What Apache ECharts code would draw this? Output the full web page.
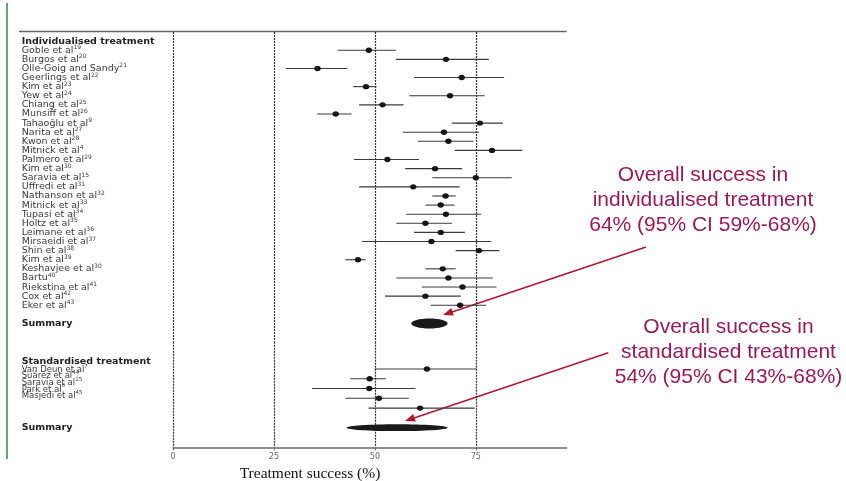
<!DOCTYPE html>
<html>
<head>
<meta charset="utf-8">
<script src="https://cdn.jsdelivr.net/npm/echarts@6/dist/echarts.min.js"></script>
<style>
  html, body { margin: 0; padding: 0; background: #fff; }
  #chart { width: 846px; height: 481px; }
</style>
</head>
<body>
<div id="chart"></div>
<script>
// 个体化治疗 individualised treatment
var indivNames = ['Goble et al', 'Burgos et al', 'Olle-Goig and Sandy', 'Geerlings et al', 'Kim et al', 'Yew et al', 'Chiang et al', 'Munsiff et al', 'Tahaoğlu et al', 'Narita et al', 'Kwon et al', 'Mitnick et al', 'Palmero et al', 'Kim et al', 'Saravia et al', 'Uffredi et al', 'Nathanson et al', 'Mitnick et al', 'Tupasi et al', 'Holtz et al', 'Leimane et al', 'Mirsaeidi et al', 'Shin et al', 'Kim et al', 'Keshavjee et al', 'Bartu', 'Riekstina et al', 'Cox et al', 'Eker et al']
var indivRefs = ['19', '20', '21', '22', '23', '24', '25', '26', '9', '27', '28', '4', '29', '30', '15', '31', '32', '33', '34', '35', '36', '37', '38', '39', '30', '40', '41', '42', '43']
var indivEst = [48.5, 67.6, 35.8, 71.5, 47.8, 68.6, 51.9, 40.3, 76.0, 67.1, 68.2, 79.0, 53.1, 64.9, 75.0, 59.5, 67.5, 66.3, 67.6, 62.5, 66.3, 64.0, 75.8, 45.8, 66.8, 68.2, 71.7, 62.5, 71.1]
var indivLow = [40.8, 55.2, 27.9, 59.7, 44.6, 58.5, 46.1, 35.7, 69.1, 56.9, 60.6, 69.8, 44.8, 57.5, 64.2, 46.1, 64.2, 62.5, 57.8, 55.3, 59.7, 46.8, 70.0, 42.7, 62.5, 55.3, 61.6, 52.5, 63.8]
var indivHigh = [55.2, 78.2, 43.2, 82.0, 50.4, 77.2, 57.1, 44.2, 81.7, 75.7, 74.4, 86.5, 60.9, 71.6, 83.9, 71.0, 70.0, 69.7, 76.3, 69.1, 72.3, 78.8, 80.8, 47.7, 70.0, 79.2, 80.1, 71.3, 77.6]
var indivSummary = [64, 59, 68] // 点估计, 下限, 上限

// 标准化治疗 standardised treatment
var stdNames = ['Van Deun et al', 'Suárez et al', 'Saravia et al', 'Park et al', 'Masjedi et al']
var stdRefs = ['7', '44', '15', '8', '45']
var stdEst = [62.9, 48.7, 48.6, 51.0, 61.2]
var stdLow = [49.9, 43.9, 34.5, 42.7, 48.4]
var stdHigh = [75.2, 52.7, 60.0, 58.4, 74.7]
var stdSummary = [54, 43, 68]

var xTicks = [0, 25, 50, 75]

/* 左侧标签行 */
function studyLabel(name, ref, small) {
  if (small) {
    return '{m|' + name + '}{t|' + ref + '}'
  }
  return '{n|' + name + '}{s|' + ref + '}'
}
var rows1 = ['', '{h|Individualised treatment}']
  .concat(indivNames.map(function (n, i) { return studyLabel(n, indivRefs[i]) }))
  .concat(['', '{h|Summary}', '', ''])
var rows2 = ['', '', '', '{h|Standardised treatment}']
  .concat(stdNames.map(function (n, i) { return studyLabel(n, stdRefs[i], true) }))
  .concat(['', '', '', '', '{h|Summary}', '', '', ''])
var keys1 = rows1.map(function (r, i) { return 'a' + i })
var keys2 = rows2.map(function (r, i) { return 'b' + i })

var indivData = indivEst.map(function (v, i) { return [v, indivLow[i], indivHigh[i], i + 2] })
var stdData = stdEst.map(function (v, i) { return [v, stdLow[i], stdHigh[i], i + 1] })

var labelRich = {
  n: { fontFamily: 'DejaVu Sans', fontSize: 9.5, color: '#3a3a3a', lineHeight: 11 },
  s: { fontFamily: 'DejaVu Sans', fontSize: 6, color: '#3a3a3a', lineHeight: 6, verticalAlign: 'top' },
  // 标准化部分行距更紧，整体略下移
  m: { fontFamily: 'DejaVu Sans', fontSize: 8.5, color: '#3a3a3a', lineHeight: 10, padding: [3, 0, 0, 0] },
  t: { fontFamily: 'DejaVu Sans', fontSize: 5.5, color: '#3a3a3a', lineHeight: 6, verticalAlign: 'top' },
  h: { fontFamily: 'DejaVu Sans', fontSize: 9.5, fontWeight: 'bold', color: '#222', lineHeight: 11 }
}
var dashStyle = { type: [2, 1], color: '#333', width: 1.2 }

function renderStudy(params, api) {
  var row = api.value(3)
  var a = api.coord([api.value(1), row])
  var b = api.coord([api.value(2), row])
  var c = api.coord([api.value(0), row])
  return {
    type: 'group',
    children: [
      { type: 'line', shape: { x1: a[0], y1: a[1], x2: b[0], y2: b[1] }, style: { stroke: '#3a3a3a', lineWidth: 1.1 } },
      { type: 'ellipse', shape: { cx: c[0], cy: c[1], rx: 3.3, ry: 2.7 }, style: { fill: '#151515' } }
    ]
  }
}
function renderSummary(ry) {
  return function (params, api) {
    var row = api.value(3)
    var a = api.coord([api.value(1), row])
    var b = api.coord([api.value(2), row])
    return {
      type: 'ellipse',
      shape: { cx: (a[0] + b[0]) / 2, cy: a[1], rx: (b[0] - a[0]) / 2, ry: ry },
      style: { fill: '#1a1a1a' }
    }
  }
}

var myChart = echarts.init(document.getElementById('chart'))
var option = {
  animation: false,
  grid: [
    { left: 173, width: 393.7, top: 32, height: 309.7, outerBoundsMode: 'none' },
    { left: 173, width: 393.7, top: 341.7, height: 105.6, outerBoundsMode: 'none' }
  ],
  xAxis: [
    {
      gridIndex: 0, type: 'value', min: 0, max: 97.5, interval: 25, position: 'top',
      axisLine: { show: false }, axisTick: { show: false }, axisLabel: { show: false },
      splitLine: { show: true, showMaxLine: false, lineStyle: dashStyle }
    },
    {
      gridIndex: 1, type: 'value', min: 0, max: 97.5, interval: 25,
      axisLine: { show: true, onZero: false, lineStyle: { color: '#6b6b6b', width: 1.5 } },
      axisTick: { show: true, length: 3, customValues: xTicks, lineStyle: { color: '#6b6b6b' } },
      axisLabel: { customValues: xTicks, margin: 6, fontSize: 8, color: '#666', fontFamily: 'DejaVu Sans' },
      splitLine: { show: true, showMaxLine: true, lineStyle: dashStyle }
    }
  ],
  yAxis: [
    {
      gridIndex: 0, type: 'category', data: keys1, inverse: true, boundaryGap: false,
      axisLine: { show: false }, axisTick: { show: false }, splitLine: { show: false },
      axisLabel: {
        interval: 0, align: 'left', margin: 151.3, rich: labelRich,
        formatter: function (v) { return rows1[+v.slice(1)] }
      }
    },
    {
      gridIndex: 1, type: 'category', data: keys2, inverse: true, boundaryGap: false,
      axisLine: { show: false }, axisTick: { show: false }, splitLine: { show: false },
      axisLabel: {
        interval: 0, align: 'left', margin: 151.3, rich: labelRich,
        formatter: function (v) { return rows2[+v.slice(1)] }
      }
    },
    { gridIndex: 1, type: 'value', inverse: true, min: -1.79, max: 9.01, show: false }
  ],
  series: [
    {
      type: 'custom', xAxisIndex: 0, yAxisIndex: 0, renderItem: renderStudy,
      encode: { x: [0, 1, 2], y: 3 }, data: indivData
    },
    {
      type: 'custom', xAxisIndex: 0, yAxisIndex: 0, renderItem: renderSummary(5),
      encode: { x: [0, 1, 2], y: 3 }, data: [indivSummary.concat([32])]
    },
    {
      type: 'custom', xAxisIndex: 1, yAxisIndex: 2, renderItem: renderStudy,
      encode: { x: [0, 1, 2], y: 3 }, data: stdData
    },
    {
      type: 'custom', xAxisIndex: 1, yAxisIndex: 2, renderItem: renderSummary(3.4),
      encode: { x: [0, 1, 2], y: 3 }, data: [stdSummary.concat([7])]
    }
  ],
  graphic: [
    { type: 'line', shape: { x1: 7, y1: 3, x2: 7, y2: 459 }, style: { stroke: '#5aa87c', lineWidth: 2 } },
    { type: 'line', shape: { x1: 19, y1: 31.5, x2: 566.7, y2: 31.5 }, style: { stroke: '#666', lineWidth: 1.5 } },
    {
      type: 'text', x: 310, y: 474,
      style: {
        text: 'Treatment success (%)', fill: '#111', font: '15.5px "Liberation Serif", "Times New Roman", serif',
        textAlign: 'center', textVerticalAlign: 'middle', align: 'center', verticalAlign: 'middle'
      }
    },
    {
      type: 'text', x: 703, y: 163,
      style: {
        text: 'Overall success in\nindividualised treatment\n64% (95% CI 59%-68%)',
        fill: '#9b1955', font: '21px "Liberation Sans", Arial, sans-serif', lineHeight: 25,
        textAlign: 'center', textVerticalAlign: 'top', align: 'center', verticalAlign: 'top'
      }
    },
    {
      type: 'text', x: 728.5, y: 314.8,
      style: {
        text: 'Overall success in\nstandardised treatment\n54% (95% CI 43%-68%)',
        fill: '#9b1955', font: '21px "Liberation Sans", Arial, sans-serif', lineHeight: 25,
        textAlign: 'center', textVerticalAlign: 'top', align: 'center', verticalAlign: 'top'
      }
    },
    // 箭头
    { type: 'line', shape: { x1: 646, y1: 247, x2: 452, y2: 312 }, style: { stroke: '#b0172f', lineWidth: 1.5 } },
    { type: 'polygon', shape: { points: [[443, 315], [453.8, 315.6], [451.2, 308]] }, style: { fill: '#b0172f' } },
    { type: 'line', shape: { x1: 608.3, y1: 352.7, x2: 414, y2: 418 }, style: { stroke: '#b0172f', lineWidth: 1.5 } },
    { type: 'polygon', shape: { points: [[405, 421], [415.8, 421.6], [413.2, 414]] }, style: { fill: '#b0172f' } }
  ]
}
myChart.setOption(option, true)
window.addEventListener('resize', function () {
  myChart.resize()
})
</script>
</body>
</html>
